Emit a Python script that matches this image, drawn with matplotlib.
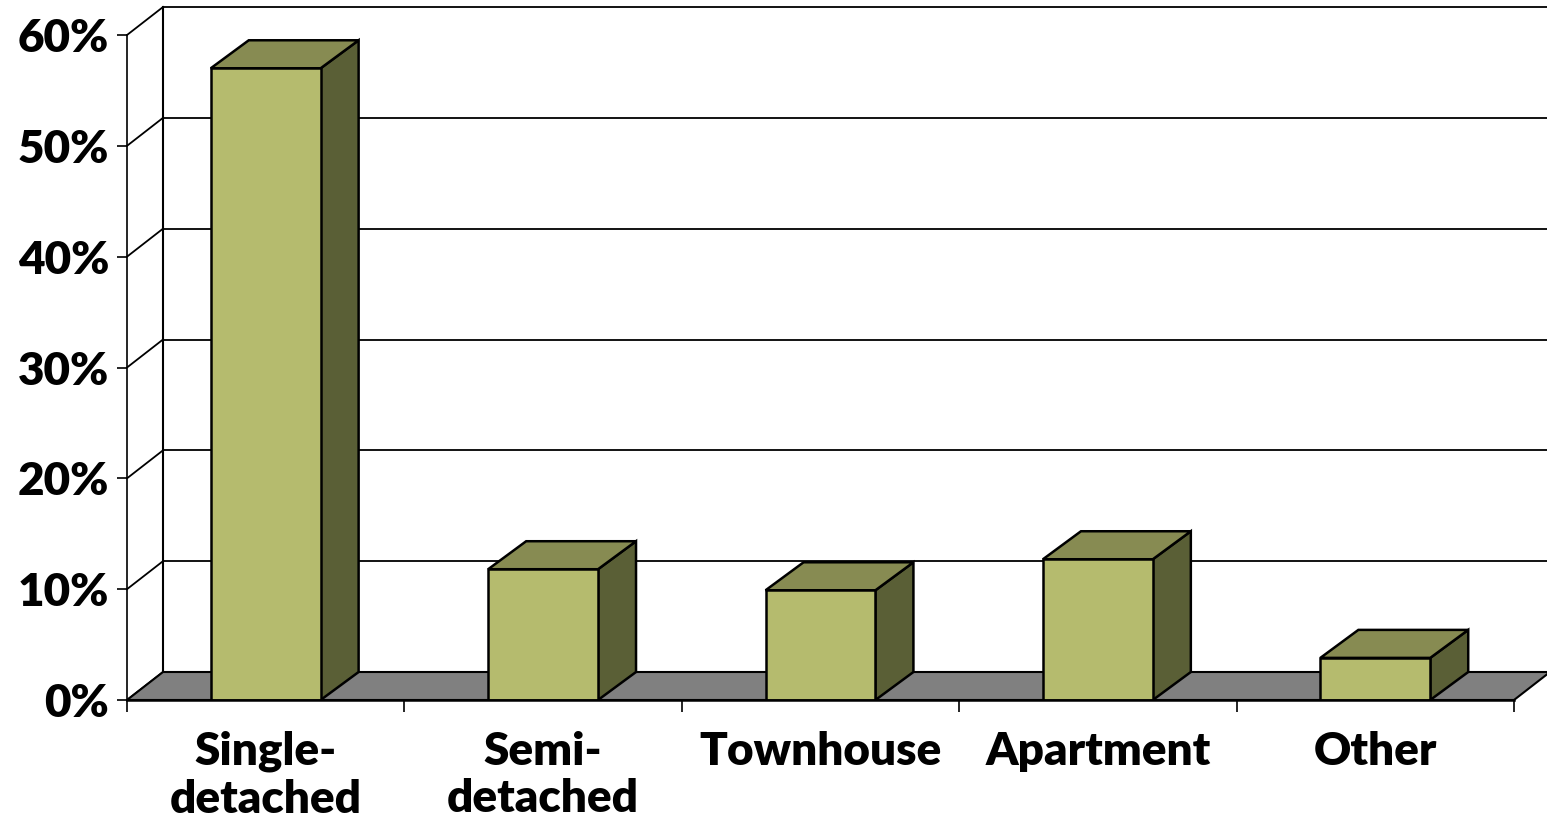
import matplotlib.pyplot as plt
from matplotlib.patches import Polygon, Rectangle

categories = ["Single-\ndetached", "Semi-\ndetached", "Townhouse", "Apartment", "Other"]
shares = [57.0, 11.8, 9.9, 12.7, 3.8]
y_ticks = [0, 10, 20, 30, 40, 50, 60]
y_tick_labels = ["0%", "10%", "20%", "30%", "40%", "50%", "60%"]

front_color = "#B5BB6E"
top_color = "#878B52"
side_color = "#5A5F36"
floor_color = "#808080"

plt.rcParams['font.family'] = ['Lato', 'DejaVu Sans']

W, H = 1547, 824
fig = plt.figure(figsize=(W / 100, H / 100), dpi=100)
# plot area: front plane from x=127px (left) to the right edge, y=700px (0%) up to 8px
ax = fig.add_axes([127 / W, (H - 700) / H, (W - 127) / W, 692 / H])

px_x = 277.4   # pixels per category
px_y = 11.083  # pixels per percent
ax.set_xlim(-0.5, -0.5 + (W - 127) / px_x)
ax.set_ylim(0, 692 / px_y)

# depth offsets (walls and bars)
wx, wy = 36 / px_x, 28 / px_y
bx, by = 38 / px_x, 28 / px_y
x_left, x_right = -0.5, len(categories) - 0.5
xmax = ax.get_xlim()[1]

# back wall gridlines and side wall
for t in y_ticks:
    ax.plot([x_left + wx, xmax + 1], [t + wy, t + wy], color="black", lw=1.3, zorder=1, clip_on=False)
    ax.plot([x_left, x_left + wx], [t, t + wy], color="black", lw=1.3, zorder=1, clip_on=False)
ax.plot([x_left + wx, x_left + wx], [wy, y_ticks[-1] + wy], color="black", lw=1.5, zorder=1, clip_on=False)

# floor
floor = Polygon([(x_left, 0), (x_right, 0), (x_right + wx, wy), (x_left + wx, wy)],
                closed=True, fc=floor_color, ec="black", lw=1.5, zorder=2)
ax.add_patch(floor)

# bars
hw = 0.198
for i, v in enumerate(shares):
    side = Polygon([(i + hw, 0), (i + hw + bx, by), (i + hw + bx, v + by), (i + hw, v)],
                   closed=True, fc=side_color, ec="black", lw=1.8, zorder=3, joinstyle="miter")
    top = Polygon([(i - hw, v), (i + hw, v), (i + hw + bx, v + by), (i - hw + bx, v + by)],
                  closed=True, fc=top_color, ec="black", lw=1.8, zorder=3, joinstyle="miter")
    front = Rectangle((i - hw, 0), 2 * hw, v, fc=front_color, ec="black", lw=1.8, zorder=4,
                      joinstyle="miter")
    ax.add_patch(side)
    ax.add_patch(top)
    ax.add_patch(front)

# axes lines
for s in ["top", "right"]:
    ax.spines[s].set_visible(False)
ax.spines["left"].set_bounds(0, y_ticks[-1])
ax.spines["left"].set_linewidth(1.2)
ax.spines["bottom"].set_bounds(x_left, x_right)
ax.spines["bottom"].set_linewidth(1.8)
ax.spines["bottom"].set_zorder(5)

ax.set_yticks(y_ticks, y_tick_labels, fontsize=33, fontweight="heavy")
ax.tick_params(axis="y", length=7, width=1.2, pad=6, color="black")

ax.set_xticks(range(len(categories)), categories, fontsize=33, fontweight="heavy")
for lbl in ax.get_xticklabels():
    lbl.set_linespacing(1.2)
ax.set_xticks([k - 0.5 for k in range(len(categories) + 1)], minor=True)
ax.tick_params(axis="x", which="major", length=0, pad=22)
ax.tick_params(axis="x", which="minor", length=8.6, width=1.2, color="black")

fig.savefig("out.png", dpi=100)
